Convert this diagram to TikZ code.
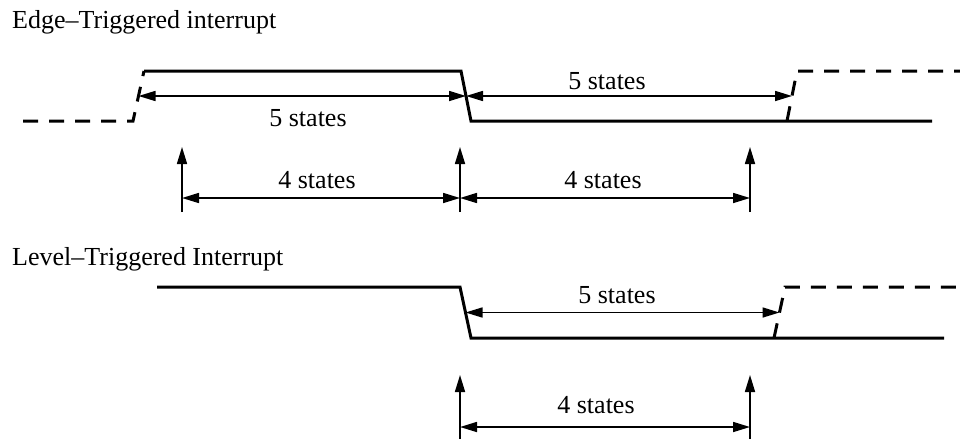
\documentclass[tikz,border=0pt]{standalone}
\usepackage{fontspec}
\setmainfont{Liberation Serif}
\usetikzlibrary{calc,positioning,arrows.meta}
\tikzset{
  sig/.style={line width=3pt, line join=miter},
  sigfut/.style={sig, dash pattern=on 15pt off 11pt},
  span/.style={line width=1.6pt, {Triangle[length=17pt,width=10pt]}-{Triangle[length=17pt,width=10pt]}},
  trig/.style={line width=1.6pt, -{Triangle[length=17pt,width=10pt]}},
  lbl/.style={font=\fontsize{26}{30}\selectfont, inner sep=0pt},
}

\begin{document}
\begin{tikzpicture}[x=1pt, y=-1pt]
  \useasboundingbox (0,0) rectangle (960,439);

  % edge triggered
  \node[lbl, anchor=base west] (edgetitle) at (12,28) {Edge--Triggered interrupt};
  \coordinate (e0) at (23,121);
  \coordinate (e1) at (133,121);
  \coordinate (e2) at (144,71);
  \coordinate (e3) at (461,71);
  \coordinate (e4) at (471,121);
  \coordinate (e5) at (932,121);
  \coordinate (e6) at (787,121);
  \coordinate (e7) at (797,71);
  \coordinate (e8) at (960,71);
  \draw[sigfut] (e0) -- (e1) -- (e2);
  \draw[sig] (e2) -- (e3) -- (e4) -- (e5);
  \draw[sigfut] (e6) -- (e7) -- (e8);

  \coordinate (erise) at ($(e1)!.5!(e2)$);
  \coordinate (efall) at ($(e3)!.5!(e4)$);
  \coordinate (enext) at ($(e6)!.5!(e7)$);
  \draw[span] (erise) -- (efall);
  \draw[span] (efall) -- (enext);
  \node[lbl] (efive) at (308,118) {5 states};
  \node[lbl] (efive2) at (607,81) {5 states};

  \coordinate (ea) at (182,212);
  \coordinate (eb) at (460,212);
  \coordinate (ec) at (750,212);
  \draw[trig] (ea) -- +(0,-65);
  \draw[trig] (eb) -- +(0,-65);
  \draw[trig] (ec) -- +(0,-65);
  \coordinate (ea4) at (182,198);
  \coordinate (eb4) at (460,198);
  \coordinate (ec4) at (750,198);
  \draw[span] (ea4) -- (eb4);
  \draw[span] (eb4) -- (ec4);
  \node[lbl] (efour) at (317,180) {4 states};
  \node[lbl] (efour2) at (603,180) {4 states};

  % level triggered
  \node[lbl, anchor=base west] (leveltitle) at (12,265) {Level--Triggered Interrupt};
  \coordinate (l0) at (157,287);
  \coordinate (l1) at (460,287);
  \coordinate (l2) at (471,338);
  \coordinate (l3) at (944,338);
  \coordinate (l4) at (774,338);
  \coordinate (l5) at (785,287);
  \coordinate (l6) at (960,287);
  \draw[sig] (l0) -- (l1) -- (l2) -- (l3);
  \draw[sigfut] (l4) -- (l5) -- (l6);

  \coordinate (lfall) at ($(l1)!.5!(l2)$);
  \coordinate (lnext) at ($(l4)!.5!(l5)$);
  \draw[span] (lfall) -- (lnext);
  \node[lbl] (lfive) at (617,295) {5 states};

  \coordinate (la) at (460,439);
  \coordinate (lb) at (750,439);
  \draw[trig] (la) -- +(0,-64);
  \draw[trig] (lb) -- +(0,-64);
  \coordinate (la4) at (460,427);
  \coordinate (lb4) at (750,427);
  \draw[span] (la4) -- (lb4);
  \node[lbl] (lfour) at (596,405) {4 states};
\end{tikzpicture}
\end{document}
